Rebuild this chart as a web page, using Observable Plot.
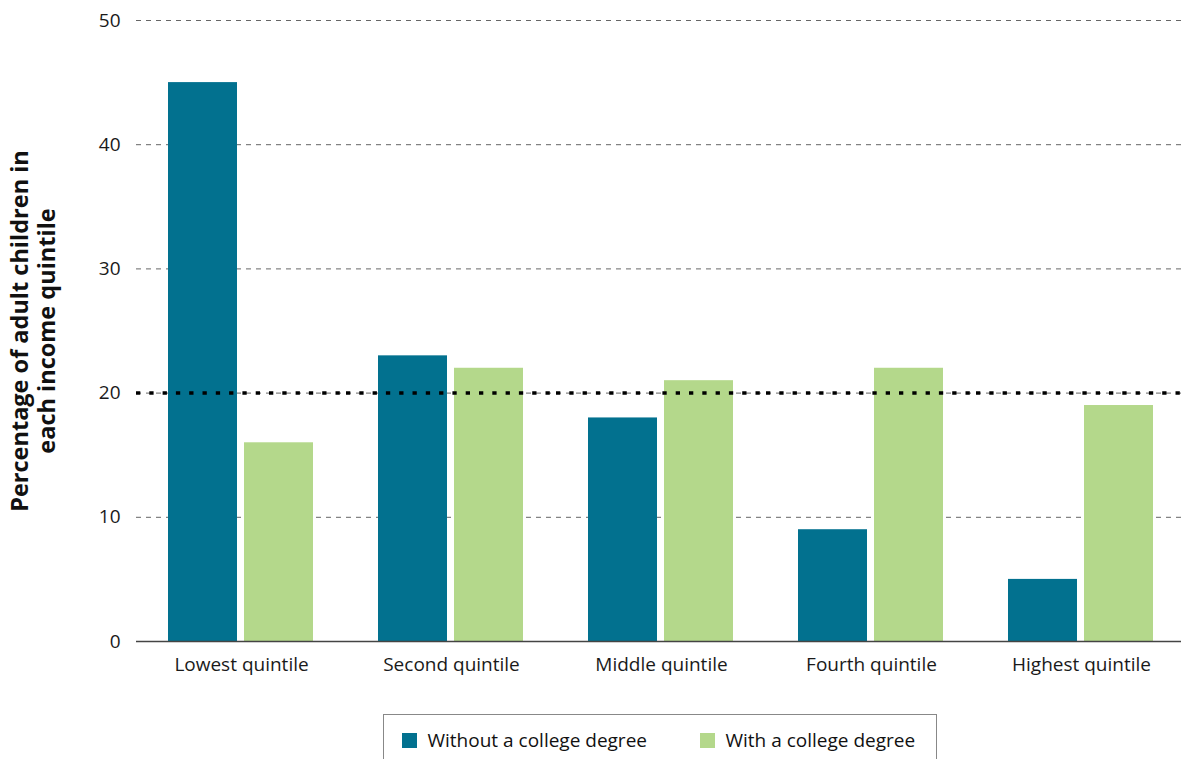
<!DOCTYPE html>
<html>
<head>
<meta charset="utf-8">
<script src="https://cdn.jsdelivr.net/npm/d3@7"></script>
<script src="https://cdn.jsdelivr.net/npm/@observablehq/plot@0.6"></script>
<style>
  html, body { margin: 0; padding: 0; background: #fff; }
  body { width: 1181px; height: 759px; overflow: hidden; position: relative; font-family: "Open Sans", "Noto Sans", sans-serif; }
  #chart { position: absolute; left: 0; top: 0; }
  #chart svg { max-width: none !important; }
  #legend {
    position: absolute; left: 383px; top: 714px; width: 554px; height: 60px;
    border: 1.5px solid #888; box-sizing: border-box; background: #fff;
    font-size: 19px; color: #111;
  }
  .item { position: absolute; top: 12px; display: flex; align-items: center; }
  .sw { width: 15px; height: 15px; margin-right: 11px; }
</style>
</head>
<body>
<div id="chart"></div>
<div id="legend"></div>
<script>
const quintiles = ["Lowest quintile", "Second quintile", "Middle quintile", "Fourth quintile", "Highest quintile"];
const seriesNames = ["Without a college degree", "With a college degree"];
const withoutDegree = [45, 23, 18, 9, 5];
const withDegree = [16, 22, 21, 22, 19];
const colors = ["#02718f", "#b4d88b"];
const yTicks = [0, 10, 20, 30, 40, 50];
const reference = [20];
const yLabelLines = ["Percentage of adult children in", "each income quintile"];

const data = [];
quintiles.forEach((q, i) => {
  data.push({quintile: q, series: seriesNames[0], value: withoutDegree[i]});
  data.push({quintile: q, series: seriesNames[1], value: withDegree[i]});
});

const chart = Plot.plot({
  width: 1188,
  height: 700,
  marginLeft: 134,
  marginRight: 0,
  marginTop: 20,
  marginBottom: 59,
  style: {fontFamily: "'Open Sans', 'Noto Sans', sans-serif", fontSize: "19px", color: "#1a1a1a", background: "#fff", maxWidth: "none"},
  fx: {domain: quintiles, padding: 0, label: null},
  x: {domain: seriesNames, paddingInner: 0.092, paddingOuter: 0.42, axis: null},
  y: {domain: [0, 50], label: null},
  color: {domain: seriesNames, range: colors},
  marks: [
    Plot.gridY(yTicks.filter(d => d > 0), {stroke: "#666", strokeOpacity: 1, strokeDasharray: "5,5", strokeWidth: 1}),
    Plot.barY(data, {fx: "quintile", x: "series", y: "value", fill: "series"}),
    Plot.ruleY([0], {stroke: "#444", strokeWidth: 1.5}),
    Plot.ruleY(reference, {stroke: "#000", strokeWidth: 3.5, strokeDasharray: "4.3,9"}),
    Plot.axisY({ticks: yTicks, tickSize: 0, tickPadding: 16, fontSize: 19, label: null}),
    Plot.axisFx({anchor: "bottom", tickSize: 0, tickPadding: 16, fontSize: 19, label: null})
  ]
});
document.getElementById("chart").appendChild(chart);

// Two-line y axis title
const svg = d3.select(chart);
const cy = 331;
const t = svg.append("text")
  .attr("transform", `translate(33,${cy}) rotate(-90)`)
  .attr("text-anchor", "middle")
  .attr("font-family", "'Open Sans', sans-serif")
  .attr("font-weight", "bold")
  .attr("font-size", 23.5)
  .attr("fill", "#111");
yLabelLines.forEach((line, i) => {
  t.append("tspan").attr("x", 0).attr("dy", i === 0 ? "-0.2em" : "1.15em").text(line);
});

// Legend
const legend = d3.select("#legend");
const lefts = [17.5, 315.5];
seriesNames.forEach((s, i) => {
  const it = legend.append("div").attr("class", "item").style("left", lefts[i] + "px");
  it.append("div").attr("class", "sw").style("background", colors[i]);
  it.append("span").text(s);
});
</script>
</body>
</html>
